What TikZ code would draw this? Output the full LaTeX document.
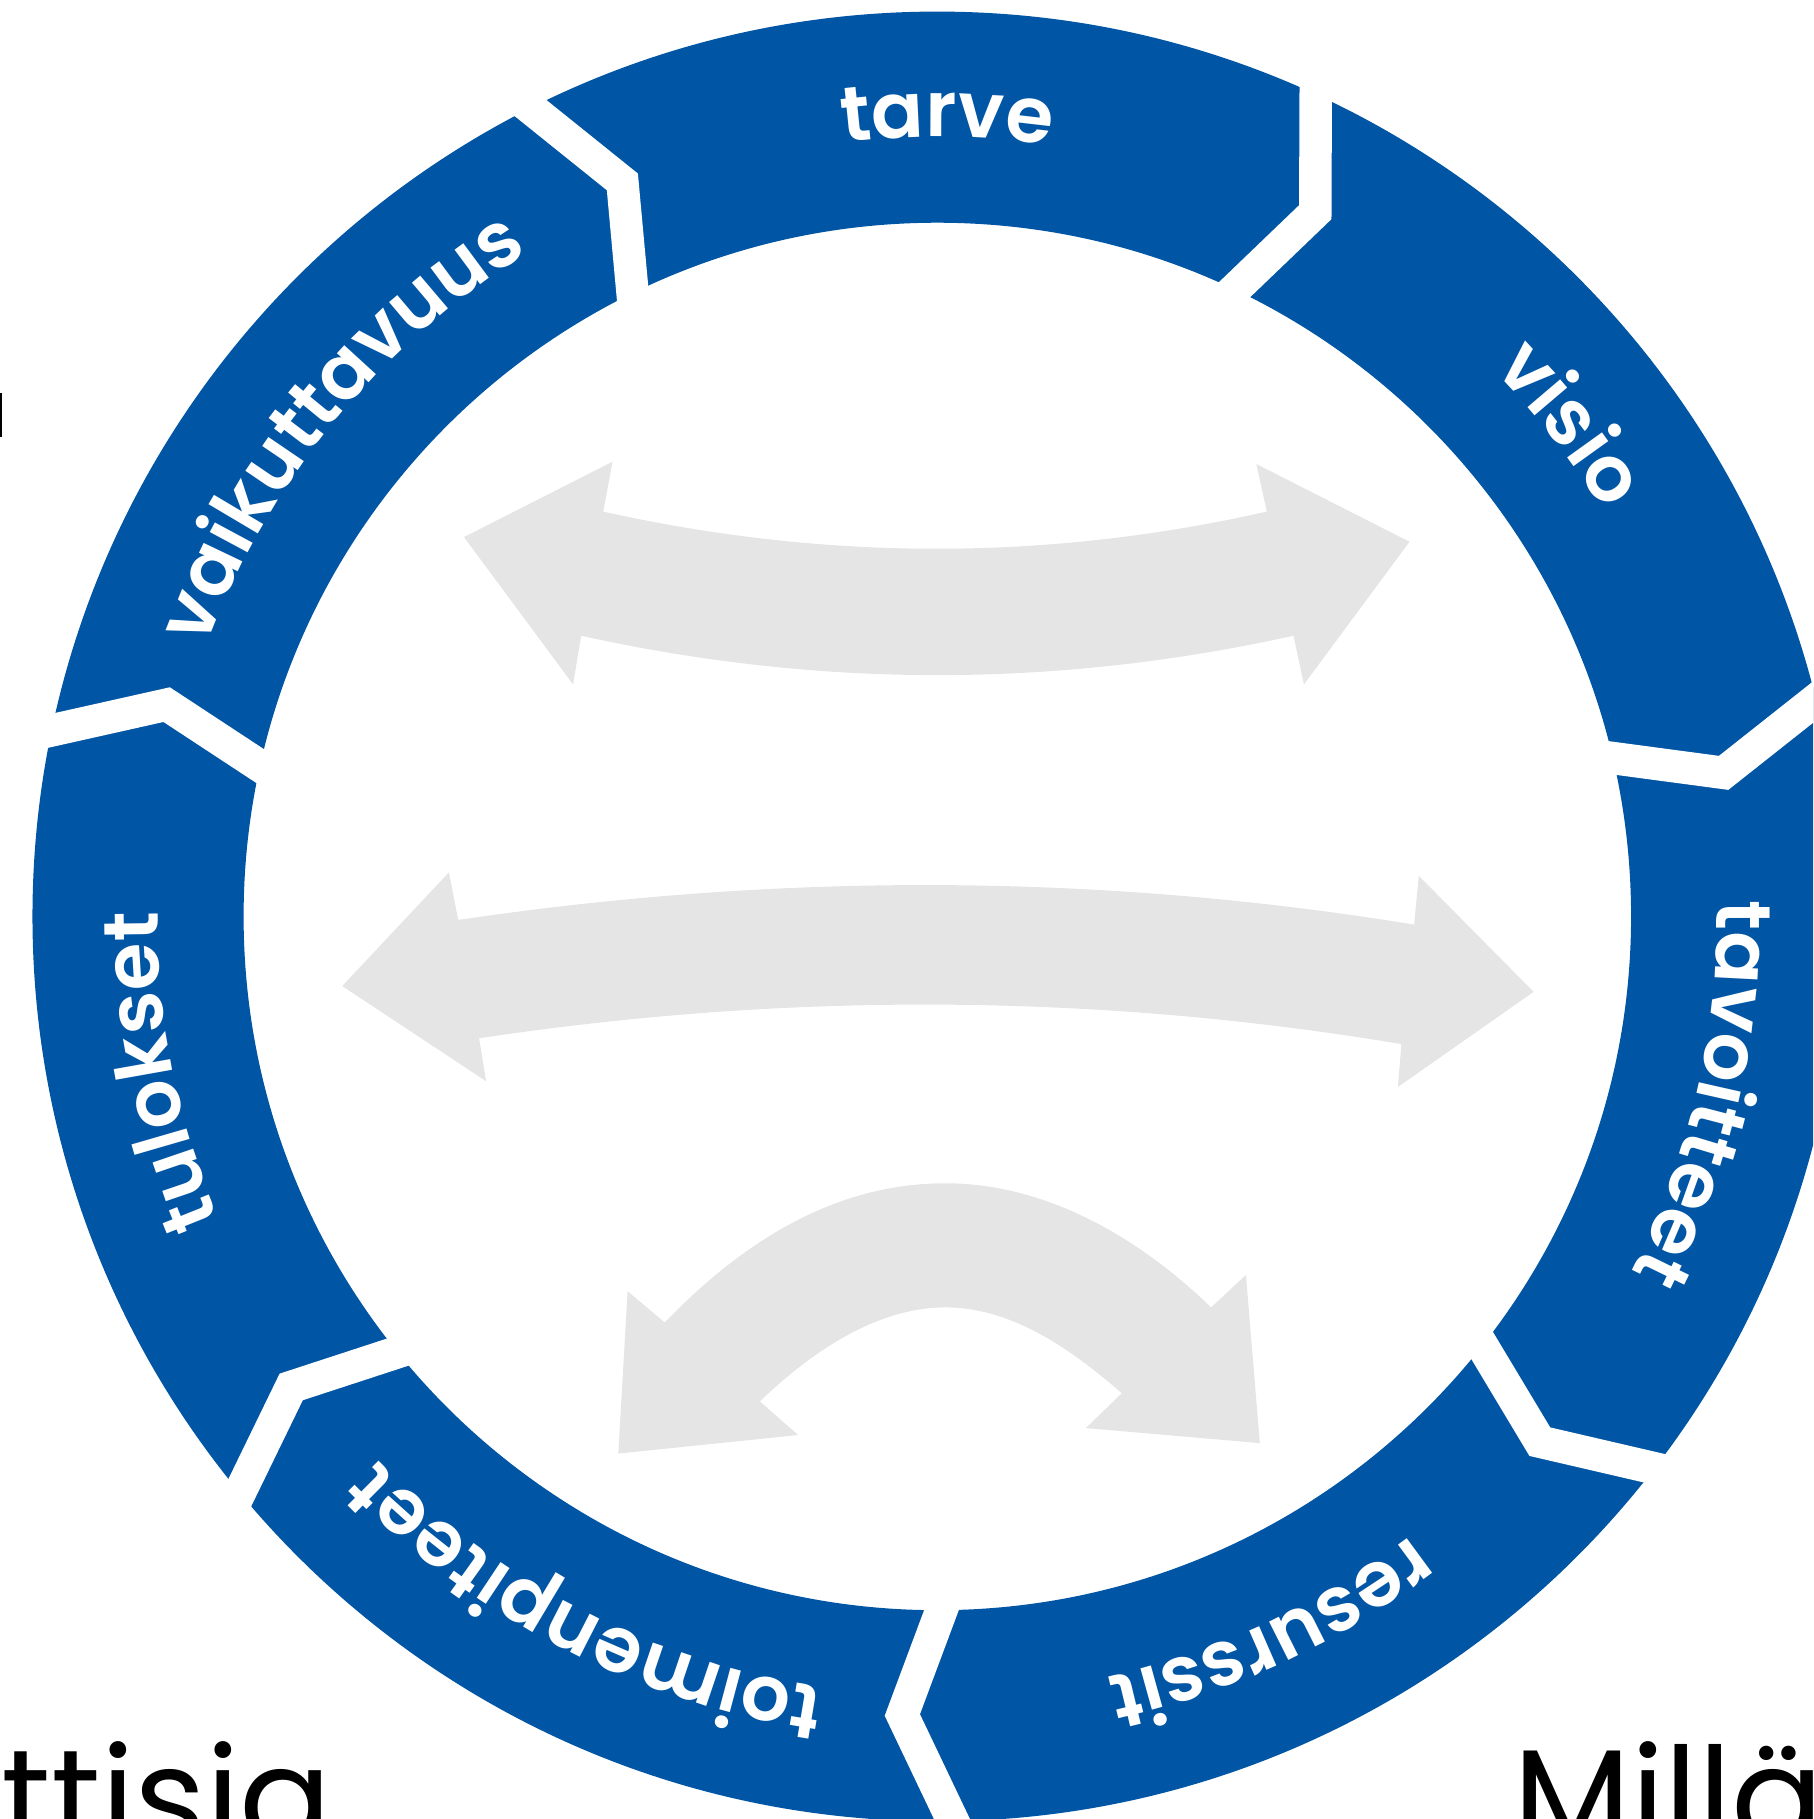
\documentclass[tikz,border=0pt]{standalone}
\usepackage{fontspec}
\setmainfont{Poppins}
\newfontfamily\lohkoperhe{Poppins SemiBold}
\usetikzlibrary{decorations.text,calc}

\definecolor{kehasininen}{RGB}{0,85,165}
\definecolor{nuoliharmaa}{RGB}{229,229,229}

\newcommand{\lohkofontti}{\lohkoperhe\fontsize{19}{19}\selectfont}

\tikzset{
    kaari/.style={fill=nuoliharmaa},
    rako/.style={draw=white, line width=2.8mm, line join=miter, miter limit=20},
    reunateksti/.style={anchor=base west, inner sep=0pt, font=\fontsize{33.5}{33.5}\selectfont}
}

\begin{document}
\begin{tikzpicture}
        % Kuvan rajat
        \useasboundingbox (-8.08,-7.78) rectangle (7.55,7.90);
        \clip (-8.08,-7.78) rectangle (7.55,7.90);

        % Säteet
        \def\ulko{7.80}
        \def\sisa{5.98}
        \def\keski{6.89}
        \def\teksti{6.72}

        % Kehä
        \fill[kehasininen, even odd rule] (0,0) circle (\ulko) (0,0) circle (\sisa);

        % Raot lohkojen välissä
        \foreach \k in {0,...,6} {
            \pgfmathsetmacro{\kulma}{116.71-51.43*\k}
            \coordinate (o) at (\kulma:\ulko);
            \coordinate (m) at (\kulma-3.5:\keski);
            \coordinate (i) at (\kulma-0.65:\sisa);
            \draw[rako] ($(m)!1.6!(o)$) -- (m) -- ($(m)!1.6!(i)$);
        }

        % Lohkojen nimet
        \foreach \nimi/\kulma in {tarve/89.3, visio/37.9, tavoitteet/-13.0, resurssit/-65.0,
                toimenpiteet/-117.1, tulokset/-168.7, vaikuttavuus/-219.3}
        {
            \path[decorate, decoration={text along path, text color=white, text align=center,
                    text/.expanded={|\noexpand\lohkofontti|\nimi}}]
                (\kulma+30:\teksti) arc[start angle=\kulma+30, end angle=\kulma-30, radius=\teksti];
        }

        % Ylänuoli
        \fill[kaari] (-2.88,3.49) .. controls (-0.96,3.063) and (0.95,3.063) .. (2.84,3.49)
            -- (2.75,3.90) -- (4.07,3.23) -- (3.16,2.00) -- (3.07,2.42)
            .. controls (1.02,1.967) and (-1.02,1.967) .. (-3.07,2.42)
            -- (-3.14,2.00) -- (-4.08,3.27) -- (-2.80,3.92) -- cycle;

        % Keskinuoli
        \fill[kaari] (-4.13,-0.03) .. controls (-1.38,0.377) and (1.37,0.377) .. (4.11,-0.07)
            -- (4.15,0.35) -- (5.14,-0.65) -- (3.97,-1.47) -- (4.00,-1.10)
            .. controls (1.33,-0.655) and (-1.32,-0.655) .. (-3.95,-1.05)
            -- (-3.89,-1.42) -- (-5.13,-0.60) -- (-4.21,0.38) -- cycle;

        % Alanuoli
        \fill[kaari] (-2.35,-3.50) .. controls (-1.58,-2.70) and (-0.78,-2.30) .. (0.07,-2.30)
            .. controls (0.92,-2.30) and (1.72,-2.75) .. (2.36,-3.37)
            -- (2.66,-3.09) -- (2.78,-4.54) -- (1.28,-4.41) -- (1.59,-4.11)
            .. controls (1.12,-3.70) and (0.62,-3.37) .. (0.07,-3.37)
            .. controls (-0.48,-3.37) and (-1.03,-3.70) .. (-1.53,-4.18)
            -- (-1.20,-4.47) -- (-2.75,-4.63) -- (-2.67,-3.23) -- cycle;

        % Reunojen tekstit
        \node[reunateksti] (ttisia) at (-8.07,-8.01) {ttisia};
        \node[reunateksti] (milla) at (4.96,-8.01) {Millä};
        \fill (-8.08,4.13) rectangle (-8.06,4.51);
\end{tikzpicture}
\end{document}
